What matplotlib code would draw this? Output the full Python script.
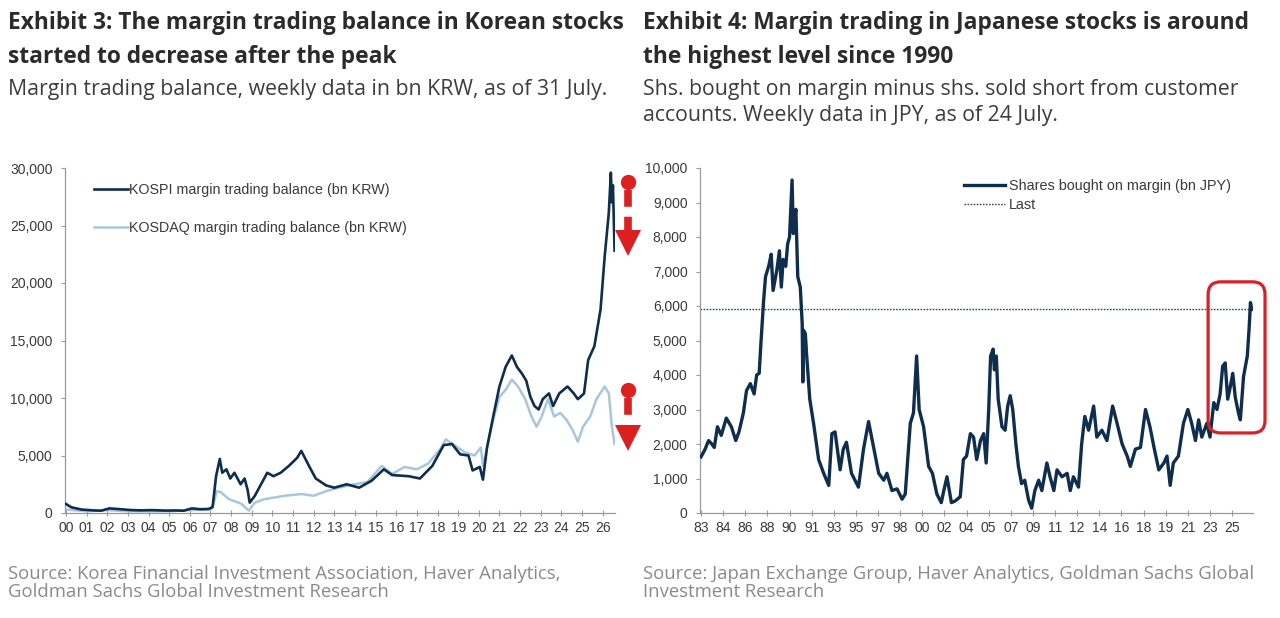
import matplotlib
matplotlib.use("Agg")
import matplotlib.pyplot as plt
from matplotlib.patches import FancyBboxPatch
from matplotlib.ticker import FuncFormatter

# Korea: decimal year / bn KRW
KOSPI_T = [2000.0, 2000.25, 2000.75, 2001.3, 2001.7, 2002.1, 2002.5, 2003.1, 2003.6, 2004.2,
           2004.8, 2005.3, 2005.7, 2006.1, 2006.5, 2006.9, 2007.1, 2007.27, 2007.45, 2007.57,
           2007.77, 2007.96, 2008.16, 2008.46, 2008.65, 2008.8, 2008.9, 2009.15, 2009.45, 2009.75,
           2010.05, 2010.4, 2010.8, 2011.2, 2011.4, 2011.6, 2011.8, 2012.1, 2012.6, 2013.0,
           2013.6, 2014.2, 2014.8, 2015.4, 2015.8, 2016.6, 2017.15, 2017.75, 2018.3, 2018.7,
           2019.1, 2019.5, 2019.7, 2020.05, 2020.2, 2020.4, 2020.7, 2021.0, 2021.3, 2021.6,
           2021.85, 2022.1, 2022.3, 2022.5, 2022.7, 2022.9, 2023.1, 2023.4, 2023.6, 2023.9,
           2024.3, 2024.6, 2024.8, 2025.1, 2025.3, 2025.6, 2025.9, 2026.1, 2026.3, 2026.4,
           2026.45, 2026.5, 2026.58]
KOSPI_V = [780, 500, 300, 230, 200, 400, 350, 260, 230, 250,
           210, 220, 200, 400, 330, 350, 500, 3200, 4700, 3500,
           3800, 3000, 3500, 2500, 3000, 2000, 900, 1500, 2500, 3500,
           3200, 3500, 4100, 4800, 5400, 4700, 4000, 3000, 2400, 2200,
           2500, 2200, 2800, 3800, 3300, 3200, 3000, 4100, 5900, 6000,
           5100, 5000, 3700, 4000, 2900, 5700, 8400, 11000, 12700, 13700,
           12700, 12100, 11500, 10100, 9300, 9000, 9900, 10400, 9300, 10400,
           11000, 10400, 9900, 10400, 13300, 14500, 17700, 22300, 26100, 29600,
           27000, 28500, 22800]

KOSDAQ_T = [2000.0, 2001.0, 2002.0, 2003.0, 2004.0, 2005.0, 2006.0, 2007.0, 2007.15, 2007.3,
            2007.5, 2007.9, 2008.5, 2008.85, 2009.15, 2009.6, 2010.6, 2011.4, 2012.0, 2012.6,
            2013.2, 2014.0, 2014.6, 2015.3, 2015.8, 2016.4, 2017.0, 2017.55, 2018.15, 2018.4,
            2018.9, 2019.3, 2019.8, 2020.1, 2020.2, 2020.4, 2020.7, 2021.0, 2021.3, 2021.6,
            2021.9, 2022.25, 2022.55, 2022.8, 2023.05, 2023.35, 2023.65, 2023.95, 2024.25, 2024.55,
            2024.8, 2025.05, 2025.4, 2025.7, 2026.1, 2026.3, 2026.45, 2026.58]
KOSDAQ_V = [300, 150, 250, 150, 150, 150, 250, 300, 800, 1900,
            1800, 1200, 800, 200, 900, 1200, 1500, 1650, 1500, 1900,
            2200, 2500, 2700, 4100, 3400, 4000, 3800, 4300, 5600, 6400,
            5800, 5300, 5000, 5700, 4100, 5700, 8100, 10100, 10700, 11600,
            11000, 9900, 8400, 7500, 8400, 9900, 8400, 8700, 8100, 7200,
            6200, 7500, 8400, 9900, 11000, 10400, 7500, 6000]

# Japan: decimal year / bn JPY
JP_T = [1983.0, 1983.3, 1983.6, 1983.85, 1984.05, 1984.3, 1984.6, 1985.0, 1985.4, 1985.75,
        1986.0, 1986.35, 1986.6, 1986.9, 1987.2, 1987.4, 1987.6, 1987.75, 1987.95, 1988.1,
        1988.35, 1988.55, 1988.7, 1989.0, 1989.2, 1989.35, 1989.5, 1989.7, 1989.85, 1990.0,
        1990.2, 1990.3, 1990.5, 1990.65, 1990.85, 1991.0, 1991.05, 1991.1, 1991.25, 1991.35,
        1991.6, 1991.9, 1992.3, 1992.7, 1993.1, 1993.35, 1993.6, 1994.0, 1994.25, 1994.5,
        1994.9, 1995.45, 1995.85, 1996.25, 1996.65, 1997.05, 1997.45, 1997.7, 1998.1, 1998.5,
        1998.9, 1999.15, 1999.55, 1999.8, 2000.05, 2000.25, 2000.6, 2001.0, 2001.3, 2001.65,
        2002.0, 2002.2, 2002.45, 2002.8, 2003.1, 2003.5, 2003.75, 2004.0, 2004.3, 2004.55,
        2004.8, 2005.1, 2005.35, 2005.55, 2005.75, 2005.9, 2006.1, 2006.2, 2006.35, 2006.5,
        2006.8, 2007.05, 2007.25, 2007.45, 2007.65, 2007.9, 2008.1, 2008.35, 2008.6, 2008.9,
        2009.15, 2009.4, 2009.7, 2009.95, 2010.35, 2010.6, 2010.9, 2011.15, 2011.55, 2011.95,
        2012.2, 2012.45, 2012.85, 2013.1, 2013.35, 2013.65, 2014.05, 2014.3, 2014.7, 2015.1,
        2015.55, 2015.9, 2016.3, 2016.7, 2016.95, 2017.35, 2017.75, 2018.15, 2018.5, 2018.85,
        2019.2, 2019.6, 2019.85, 2020.1, 2020.35, 2020.75, 2021.15, 2021.5, 2021.8, 2022.1,
        2022.35, 2022.6, 2023.0, 2023.25, 2023.55, 2023.8, 2024.05, 2024.25, 2024.45, 2024.65,
        2024.85, 2025.05, 2025.25, 2025.5, 2025.65, 2025.9, 2026.2, 2026.35, 2026.45, 2026.55]
JP_V = [1630, 1830, 2100, 2000, 1900, 2500, 2250, 2750, 2500, 2100,
        2350, 2900, 3550, 3750, 3450, 4000, 4050, 5000, 6150, 6850,
        7150, 7500, 6450, 7050, 7600, 6550, 7350, 7150, 7800, 8000,
        9650, 8100, 8800, 6850, 6550, 5500, 3800, 5300, 5200, 4600,
        3300, 2600, 1550, 1150, 800, 2300, 2350, 1250, 1850, 2050,
        1150, 750, 1850, 2650, 1900, 1150, 950, 1150, 650, 700,
        400, 550, 2600, 2900, 4550, 3000, 2500, 1350, 1150, 550,
        300, 650, 1050, 300, 350, 470, 1550, 1650, 2300, 2200,
        1550, 2100, 2300, 1450, 3000, 4550, 4750, 4150, 4550, 3300,
        2500, 2400, 3100, 3400, 3000, 2000, 1350, 850, 950, 380,
        140, 650, 950, 650, 1450, 1050, 650, 1250, 1050, 1150,
        650, 1050, 750, 2000, 2800, 2400, 3100, 2200, 2400, 2100,
        3100, 2600, 2000, 1650, 1350, 1850, 1900, 3000, 2500, 1850,
        1250, 1450, 1650, 800, 1450, 1650, 2600, 3000, 2600, 2100,
        2700, 2200, 2600, 2200, 3200, 3000, 3450, 4250, 4350, 3300,
        3650, 4050, 3350, 2900, 2700, 3950, 4550, 5400, 6100, 5900]

KR_TICKS = list(range(2000, 2027))
KR_LABELS = [f"{y % 100:02d}" for y in KR_TICKS]
JP_LABELS = ["83", "84", "86", "88", "90", "91", "93", "95", "97", "98", "00", "02", "04",
             "05", "07", "09", "11", "12", "14", "16", "18", "19", "21", "23", "25"]
JP_TICK_STEP = 1.75

TITLE_FONT = ["Open Sans", "DejaVu Sans"]
AXIS_FONT = ["Liberation Sans", "DejaVu Sans"]
NAVY = "#0f2d4d"
LIGHT = "#a8c6de"
RED = "#dc2020"
TXT = "#3a3a3a"
SRC = "#8a8a8a"

W, H = 1280, 618


def fx(px):
    return px / W


def fy(py):
    return 1 - py / H


def style_axes(ax):
    for s in ("top", "right"):
        ax.spines[s].set_visible(False)
    for s in ("left", "bottom"):
        ax.spines[s].set_color("#9a9a9a")
        ax.spines[s].set_linewidth(0.9)
    ax.tick_params(axis="y", direction="out", length=3, color="#9a9a9a",
                   labelsize=10, labelcolor=TXT, pad=6)
    ax.tick_params(axis="x", direction="inout", length=5, color="#9a9a9a",
                   labelsize=10, labelcolor=TXT, pad=3)
    ax.yaxis.set_major_formatter(FuncFormatter(lambda v, p: f"{v:,.0f}"))
    for lab in ax.get_xticklabels() + ax.get_yticklabels():
        lab.set_family(AXIS_FONT)


def red_down_marker(ax, x, y_dot, y_shaft0, y_shaft1, y_head):
    kw = dict(color=RED, clip_on=False, zorder=5)
    ax.plot([x, x], [y_shaft0, y_shaft1], lw=5.5, dashes=(2.2, 1.3), solid_capstyle="butt", **kw)
    ax.plot([x], [y_dot], marker="o", markersize=11, markeredgewidth=0, linestyle="none", **kw)
    ax.plot([x], [y_head], marker="v", markersize=19, markeredgewidth=0, linestyle="none", **kw)


fig = plt.figure(figsize=(W / 100, H / 100), dpi=100)

# ---- left: Korea ----
ax1 = fig.add_axes([fx(65), fy(513), fx(615 - 65), (513 - 168) / H])
ax1.plot(KOSDAQ_T, KOSDAQ_V, color=LIGHT, lw=1.8, label="KOSDAQ margin trading balance (bn KRW)", zorder=2)
ax1.plot(KOSPI_T, KOSPI_V, color=NAVY, lw=1.9, label="KOSPI margin trading balance (bn KRW)", zorder=3)
ax1.set_xlim(1999.95, KOSPI_T[-1] + 0.02)
ax1.set_ylim(0, 30000)
ax1.set_yticks(range(0, 30001, 5000))
ax1.set_xticks(KR_TICKS)
ax1.set_xticklabels(KR_LABELS)
style_axes(ax1)
h, l = ax1.get_legend_handles_labels()
leg1 = ax1.legend(h[::-1], l[::-1], loc="upper left", bbox_to_anchor=(0.04, 0.978), frameon=False,
                  handlelength=2.4, handletextpad=0.05, labelspacing=1.7, borderpad=0,
                  prop={"family": AXIS_FONT, "size": 10.3})
for t in leg1.get_texts():
    t.set_color(TXT)

red_down_marker(ax1, 2027.25, 28800, 28100, 24600, 23500)
red_down_marker(ax1, 2027.25, 10700, 10000, 7800, 6500)

# ---- right: Japan ----
ax2 = fig.add_axes([fx(700), fy(513), fx(1253 - 700), (513 - 168) / H])
ax2.plot(JP_T, JP_V, color=NAVY, lw=2.4, label="Shares bought on margin (bn JPY)", zorder=3)
ax2.axhline(JP_V[-1], color="#33465c", lw=1.0, linestyle=(0, (1.2, 1.0)), label="Last", zorder=2)
ax2.set_xlim(JP_T[0] - 0.08, JP_T[-1] + 0.1)
ax2.set_ylim(0, 10000)
ax2.set_yticks(range(0, 10001, 1000))
ax2.set_xticks([JP_T[0] + JP_TICK_STEP * i for i in range(len(JP_LABELS))])
ax2.set_xticklabels(JP_LABELS)
style_axes(ax2)
leg2 = ax2.legend(loc="upper left", bbox_to_anchor=(0.465, 0.99), frameon=False,
                  handlelength=2.8, handletextpad=0.3, labelspacing=0.4, borderpad=0,
                  prop={"family": AXIS_FONT, "size": 10.4})
for t in leg2.get_texts():
    t.set_color(TXT)

# rounded highlight box around the recent surge (x in years, y in bn JPY)
box = FancyBboxPatch((2023.1, 2320), 4.5, 4380,
                     boxstyle="round,pad=0,rounding_size=1.0", mutation_aspect=366,
                     fill=False, edgecolor="#d92027", lw=2.3, clip_on=False, zorder=6)
ax2.add_patch(box)

# ---- titles / subtitles / sources ----
TITLE_KW = dict(family=TITLE_FONT, weight="bold", size=16.35, color="#2b2b2b", va="baseline")
SUB_KW = dict(family=TITLE_FONT, size=15.3, color="#3c3c3c", va="baseline")
SRC_KW = dict(family=TITLE_FONT, size=13.3, color=SRC, va="baseline")

fig.text(fx(8), fy(29), "Exhibit 3: The margin trading balance in Korean stocks", **TITLE_KW)
fig.text(fx(8), fy(63), "started to decrease after the peak", **TITLE_KW)
fig.text(fx(8), fy(95), "Margin trading balance, weekly data in bn KRW, as of 31 July.", **SUB_KW)

fig.text(fx(643), fy(29), "Exhibit 4: Margin trading in Japanese stocks is around", **TITLE_KW)
fig.text(fx(643), fy(63), "the highest level since 1990", **TITLE_KW)
fig.text(fx(643), fy(95), "Shs. bought on margin minus shs. sold short from customer", **SUB_KW)
fig.text(fx(643), fy(121), "accounts. Weekly data in JPY, as of 24 July.", **SUB_KW)

fig.text(fx(8), fy(579), "Source: Korea Financial Investment Association, Haver Analytics,", **SRC_KW)
fig.text(fx(8), fy(597), "Goldman Sachs Global Investment Research", **SRC_KW)
fig.text(fx(643), fy(579), "Source: Japan Exchange Group, Haver Analytics, Goldman Sachs Global", **SRC_KW)
fig.text(fx(643), fy(597), "Investment Research", **SRC_KW)

fig.savefig("out.png", dpi=100, facecolor="white")
